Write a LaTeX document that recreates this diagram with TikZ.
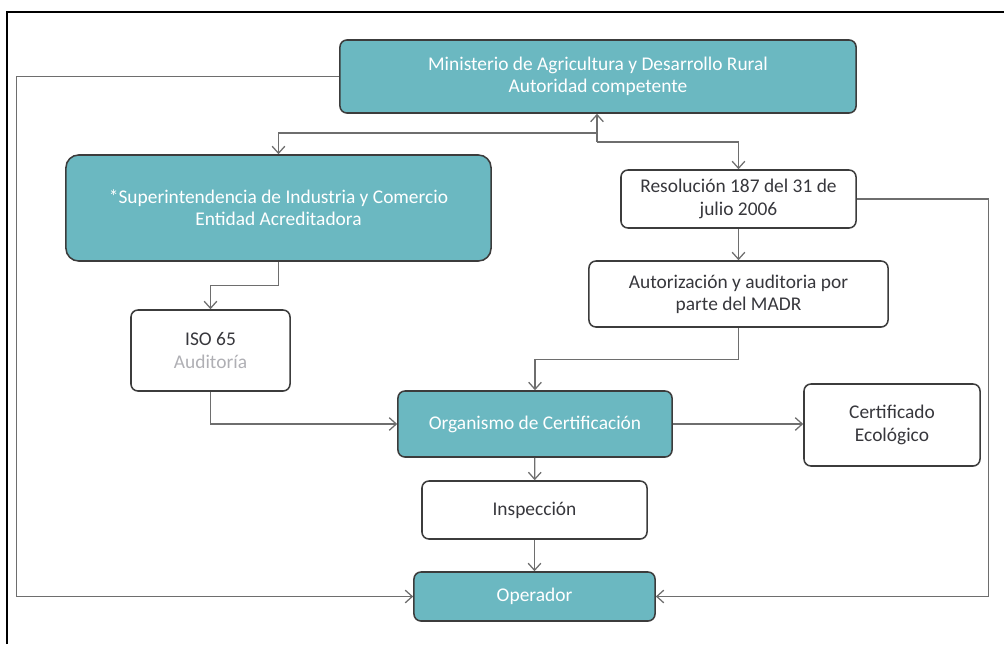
\documentclass[tikz,border=0pt]{standalone}
\usepackage{fontspec}
\setmainfont{Carlito}
\usetikzlibrary{arrows.meta}

\definecolor{tealfill}{RGB}{107,184,193}
\definecolor{boxline}{RGB}{60,60,60}
\definecolor{linkgray}{RGB}{110,110,110}
\definecolor{textgray}{RGB}{55,55,60}
\definecolor{paletext}{RGB}{175,175,180}

\begin{document}
\begin{tikzpicture}[x=0.025cm,y=-0.025cm,
    font=\fontsize{13.8}{15.8}\selectfont,
    box/.style={draw=boxline,line width=1.1pt,rounded corners=5pt,align=center,inner sep=0pt,text=textgray},
    tealbox/.style={box,fill=tealfill,text=white},
    link/.style={draw=linkgray,line width=0.9pt,-{Straight Barb[length=5pt,width=9pt]}}]

    \useasboundingbox (0,0) rectangle (1004,644);
    \draw [line width=1.8pt] (7,644) -- (7,12) -- (1004,12);

    % boxes
    \node [tealbox,minimum width=12.9cm,minimum height=1.825cm] (madr) at (598,76.5)
        {Ministerio de Agricultura y Desarrollo Rural\\Autoridad competente};
    \node [tealbox,rounded corners=9pt,minimum width=10.625cm,minimum height=2.65cm] (sic) at (278.5,208)
        {*Superintendencia de Industria y Comercio\\Entidad Acreditadora};
    \node [box,minimum width=5.875cm,minimum height=1.45cm] (res) at (738.5,199)
        {Resolución 187 del 31 de\\julio 2006};
    \node [box,minimum width=7.475cm,minimum height=1.65cm] (aut) at (738.5,294)
        {Autorización y auditoria por\\parte del MADR};
    \node [box,minimum width=3.975cm,minimum height=2.025cm] (iso) at (210.5,350.5)
        {ISO 65\\\textcolor{paletext}{Auditoría}};
    \node [tealbox,minimum width=6.85cm,minimum height=1.65cm] (org) at (535,424)
        {Organismo de Certificación};
    \node [box,minimum width=4.4cm,minimum height=2.05cm] (cert) at (892,425)
        {Certificado\\Ecológico};
    \node [box,minimum width=5.625cm,minimum height=1.45cm] (insp) at (534.5,510)
        {Inspección};
    \node [tealbox,minimum width=6.025cm,minimum height=1.225cm] (oper) at (534.5,596.5)
        {Operador};

    % connectors
    \coordinate (sj) at (597,133);
    \coordinate (rj) at (597,142);
    \draw [link] (rj) -- (madr.south -| rj);
    \draw [link] (sj) -| (sic.north);
    \draw [link] (rj) -| (res.north);
    \draw [link] (res) -- (aut);
    \draw [link] (aut.south) -- ++(0,32) -| (org.north);
    \draw [link] (sic.south) -- ++(0,24) -| (iso.north);
    \draw [link] (iso.south) |- (org.west);
    \draw [link] (org.east) -- (org.east -| cert.west);
    \draw [link] (org) -- (insp);
    \draw [link] (insp) -- (oper);
    \draw [link] (madr.west) -- ++(-323,0) |- (oper.west);
    \draw [link] (res.east) -- ++(132,0) |- (oper.east);
\end{tikzpicture}
\end{document}
